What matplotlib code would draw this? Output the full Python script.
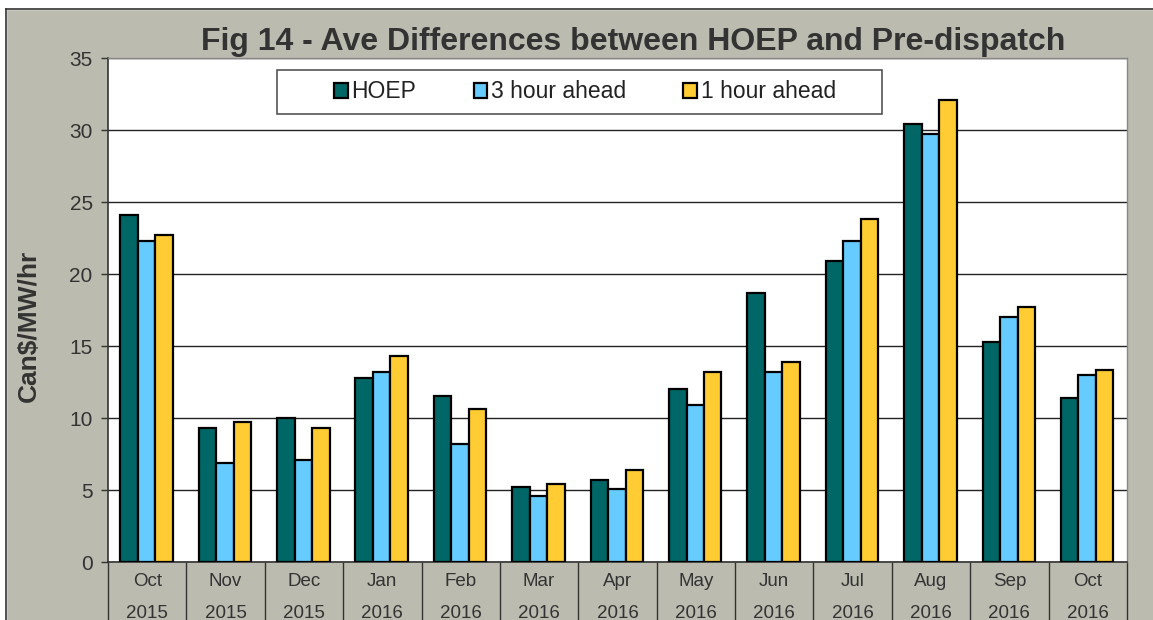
import matplotlib
matplotlib.use("Agg")
import matplotlib.pyplot as plt
import numpy as np
from matplotlib.lines import Line2D
from matplotlib.patches import Rectangle

plt.rcParams["font.family"] = ["Liberation Sans", "DejaVu Sans"]

months = ["Oct", "Nov", "Dec", "Jan", "Feb", "Mar", "Apr", "May", "Jun", "Jul", "Aug", "Sep", "Oct"]
years = ["2015", "2015", "2015", "2016", "2016", "2016", "2016", "2016", "2016", "2016", "2016", "2016", "2016"]
hoep = [24.1, 9.3, 10.0, 12.8, 11.5, 5.2, 5.7, 12.0, 18.7, 20.9, 30.4, 15.3, 11.4]
three_hour = [22.3, 6.9, 7.1, 13.2, 8.2, 4.6, 5.1, 10.9, 13.2, 22.3, 29.7, 17.0, 13.0]
one_hour = [22.7, 9.7, 9.3, 14.3, 10.6, 5.4, 6.4, 13.2, 13.9, 23.8, 32.1, 17.7, 13.3]
series_names = ["HOEP", "3 hour ahead", "1 hour ahead"]
colors = ["#006666", "#66CCFF", "#FFCC33"]

bg = "#BBBBB0"
fig = plt.figure(figsize=(11.53, 6.20), dpi=100, facecolor=bg)
ax = fig.add_axes([108/1153, 1 - 562/620, (1127-108)/1153, (562-58)/620])
ax.set_facecolor("white")

x = np.arange(len(months))
w = 0.223
for i, (vals, name, c) in enumerate(zip([hoep, three_hour, one_hour], series_names, colors)):
    ax.bar(x + (i - 1) * w - 0.008, vals, width=w, color=c, edgecolor="black",
           linewidth=1.6, label=name, zorder=3)

ax.set_xlim(-0.5, len(months) - 0.5)
ax.set_ylim(0, 35)
ax.set_yticks(np.arange(0, 36, 5))
ax.grid(axis="y", color="#222222", linewidth=1.0, zorder=0)
ax.tick_params(axis="y", labelsize=15, labelcolor="#333333", color="#333333", length=5, width=1, pad=6)

# x labels
ax.set_xticks(x)
ax.set_xticklabels([])
ax.tick_params(axis="x", which="major", length=0)
ax.set_xticks(np.arange(-0.5, len(months), 1), minor=True)
ax.tick_params(axis="x", which="minor", length=60, width=1, color="#333333", direction="out")
trans = ax.get_xaxis_transform()
for xi, m, yv in zip(x, months, years):
    ax.text(xi, -0.038, m, transform=trans, ha="center", va="center", fontsize=13.5, color="#333333")
    ax.text(xi, -0.102, yv, transform=trans, ha="center", va="center", fontsize=13.5, color="#333333")

for s in ["top", "right"]:
    ax.spines[s].set_color("#888888")
    ax.spines[s].set_linewidth(1)
for s in ["left", "bottom"]:
    ax.spines[s].set_color("#333333")
    ax.spines[s].set_linewidth(1.2)

ax.set_ylabel("Can$/MW/hr", fontsize=19, fontweight="bold", color="#333333")
ax.yaxis.set_label_coords((41 - 108) / 1019, (562 - 326) / 504)

# legend frame
ax.add_patch(Rectangle(((277-108)/1019, (562-114)/504), (882-277)/1019, 44/504,
                       transform=ax.transAxes, facecolor="white", edgecolor="#555555",
                       linewidth=1.2, zorder=4))
leg = ax.legend(loc="center", bbox_to_anchor=((585 - 108) / 1019, (562-92)/504),
                ncol=3, fontsize=16.5, frameon=False,
                handlelength=0.6, handleheight=0.6, handletextpad=0.15,
                columnspacing=2.5, labelcolor="#222222")
leg.set_zorder(5)

fig.text(633/1153, 1 - 42/620, "Fig 14 - Ave Differences between HOEP and Pre-dispatch",
         ha="center", va="center", fontsize=23, fontweight="bold", color="#333333")

# outer frame lines
fig.patches.append(Rectangle((0, 1 - 9/620), 1, 9/620, transform=fig.transFigure, color="white", zorder=-1))
fig.patches.append(Rectangle((0, 0), 6/1153, 1, transform=fig.transFigure, color="white", zorder=-1))
fig.add_artist(Line2D([6/1153, 1], [1 - 9/620, 1 - 9/620], color="#333333", linewidth=1.2))
fig.add_artist(Line2D([6/1153, 6/1153], [0, 1 - 9/620], color="#333333", linewidth=1.2))

fig.savefig("out.png", dpi=100, facecolor=bg)
